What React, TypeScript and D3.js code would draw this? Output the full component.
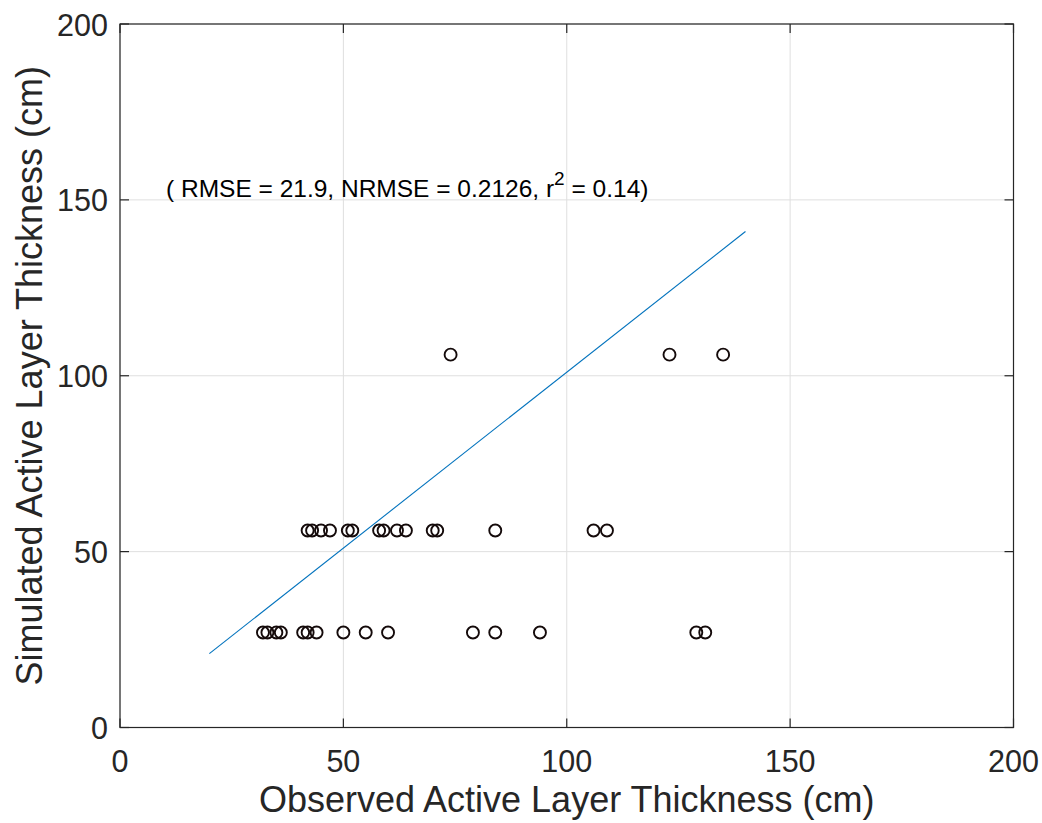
import React from "react";
import * as d3 from "d3";

const obsRow27 = [32, 33, 35, 36, 41, 42, 44, 50, 55, 60, 79, 84, 94, 129, 131];
const simRow27 = 27;
const obsRow56 = [42, 43, 45, 47, 51, 52, 58, 59, 62, 64, 70, 71, 84, 106, 109];
const simRow56 = 56;
const obsRow106 = [74, 123, 135];
const simRow106 = 106;

const lineX = [20, 140];
const lineY = [21, 141];

const xTicks = [0, 50, 100, 150, 200];
const yTicks = [0, 50, 100, 150, 200];

const xLabel = "Observed Active Layer Thickness (cm)";
const yLabel = "Simulated Active Layer Thickness (cm)";

const W = 1042;
const H = 823;
const L = 120, R = 1013.5, T = 24, B = 727.5;

export default function App() {
  const x = d3.scaleLinear().domain([0, 200]).range([L, R]);
  const y = d3.scaleLinear().domain([0, 200]).range([B, T]);

  const points: [number, number][] = [
    ...obsRow27.map((o) => [o, simRow27] as [number, number]),
    ...obsRow56.map((o) => [o, simRow56] as [number, number]),
    ...obsRow106.map((o) => [o, simRow106] as [number, number]),
  ];
  const lineGen = d3.line<number>().x((d) => x(d)).y((_, i) => y(lineY[i]));
  const font = "'Liberation Sans', Arial, Helvetica, sans-serif";
  const axisColor = "#262626";
  const tl = 9;

  return (
    <svg width={W} height={H} style={{ position: "absolute", left: 0, top: 0 }} fontFamily={font}>
      <rect x={0} y={0} width={W} height={H} fill="#fff" />
      {/* grid */}
      {xTicks.map((t) => (
        <line key={"gx" + t} x1={x(t)} x2={x(t)} y1={T} y2={B} stroke="#dfdfdf" strokeWidth={1} />
      ))}
      {yTicks.map((t) => (
        <line key={"gy" + t} x1={L} x2={R} y1={y(t)} y2={y(t)} stroke="#dfdfdf" strokeWidth={1} />
      ))}
      {/* box */}
      <rect x={L} y={T} width={R - L} height={B - T} fill="none" stroke={axisColor} strokeWidth={1.2} />
      {/* ticks */}
      {xTicks.map((t) => (
        <g key={"tx" + t}>
          <line x1={x(t)} x2={x(t)} y1={B} y2={B - tl} stroke={axisColor} strokeWidth={1.2} />
          <line x1={x(t)} x2={x(t)} y1={T} y2={T + tl} stroke={axisColor} strokeWidth={1.2} />
          <text x={x(t)} y={B + 44} textAnchor="middle" fontSize={30.5} fill={axisColor}>{t}</text>
        </g>
      ))}
      {yTicks.map((t) => (
        <g key={"ty" + t}>
          <line x1={L} x2={L + tl} y1={y(t)} y2={y(t)} stroke={axisColor} strokeWidth={1.2} />
          <line x1={R} x2={R - tl} y1={y(t)} y2={y(t)} stroke={axisColor} strokeWidth={1.2} />
          <text x={L - 12} y={y(t) + 11.5} textAnchor="end" fontSize={30.5} fill={axisColor}>{t}</text>
        </g>
      ))}
      {/* fit line */}
      <path d={lineGen(lineX) || ""} fill="none" stroke="#0072BD" strokeWidth={1.1} />
      {/* points */}
      {points.map((p, i) => (
        <circle key={i} cx={x(p[0])} cy={y(p[1])} r={6} fill="none" stroke="#140a0a" strokeWidth={1.9} />
      ))}
      {/* annotation */}
      <text x={166} y={197} fontSize={24.5} fill="#000">
        ( RMSE = 21.9, NRMSE = 0.2126, r
        <tspan dy={-12} fontSize={19}>2</tspan>
        <tspan dy={12}> = 0.14)</tspan>
      </text>
      {/* axis labels */}
      <text x={(L + R) / 2} y={812} textAnchor="middle" fontSize={36} fill={axisColor}>{xLabel}</text>
      <text transform={`translate(42, ${(T + B) / 2}) rotate(-90)`} textAnchor="middle" fontSize={36} fill={axisColor}>{yLabel}</text>
    </svg>
  );
}
